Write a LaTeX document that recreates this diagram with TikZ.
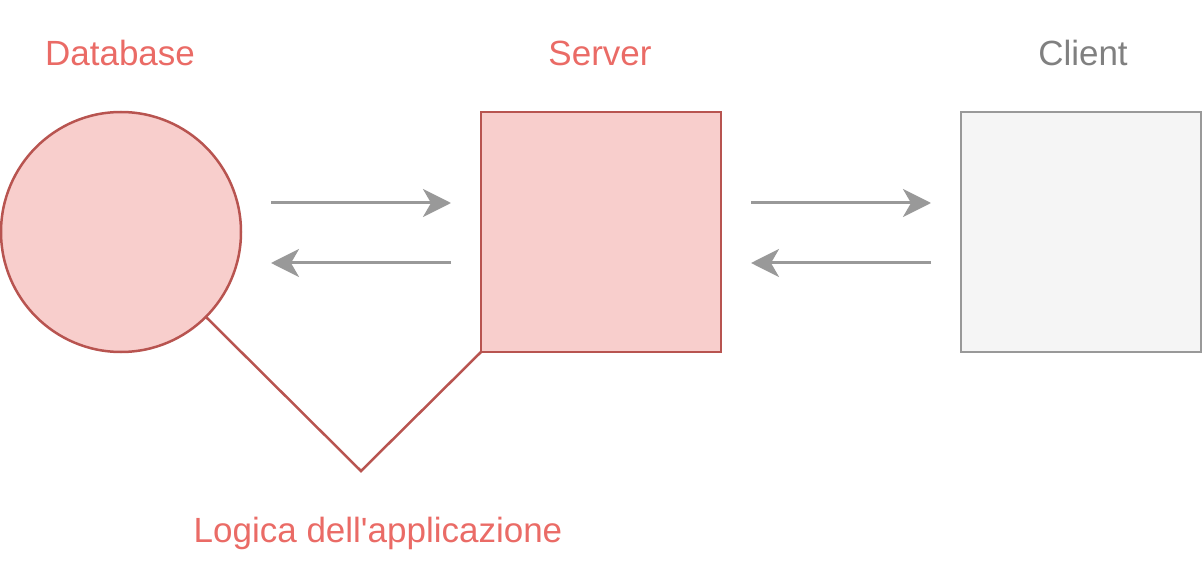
\documentclass[tikz,border=0pt]{standalone}
\usepackage{fontspec}
\setmainfont{Liberation Sans}
\usetikzlibrary{arrows.meta, positioning, calc}
\definecolor{lineRed}{HTML}{B85450}
\definecolor{fillRed}{HTML}{F8CECC}
\definecolor{textRed}{HTML}{EA6B66}
\definecolor{lineGrey}{HTML}{999999}
\definecolor{fillGrey}{HTML}{F5F5F5}
\definecolor{textGrey}{HTML}{808080}
\tikzset{
    % Shapes
    dbCircle/.style={circle, draw=lineRed, fill=fillRed, line width=2.5pt, minimum size=240pt, inner sep=0pt, outer sep=0pt},
    serverBox/.style={rectangle, draw=lineRed, fill=fillRed, line width=2.5pt, minimum size=240pt, inner sep=0pt, outer sep=0pt},
    clientBox/.style={rectangle, draw=lineGrey, fill=fillGrey, line width=2.5pt, minimum size=240pt, inner sep=0pt, outer sep=0pt},
    % Connectors
    flowArrow/.style={-{Stealth[length=28pt, width=28pt, inset=8pt]}, line width=3pt, draw=lineGrey, shorten >=30pt, shorten <=30pt},
    logicLine/.style={draw=lineRed, line width=2.5pt},
    % Labels
    titleLabel/.style={font=\fontsize{35}{40}\selectfont, text=textRed},
    greyLabel/.style={font=\fontsize{35}{40}\selectfont, text=textGrey}
}
\begin{document}
\begin{tikzpicture}[x=1pt, y=-1pt]
    \useasboundingbox (0,0) rectangle (1203,564);

    % Main blocks
    \node[dbCircle] (db) at (121,232) {};
    \node[serverBox] (srv) at (601,232) {};
    \node[clientBox] (cli) at (1081,232) {};

    % Titles
    \node[titleLabel] (dbTitle) at (120,53) {Database};
    \node[titleLabel] (srvTitle) at (600,53) {Server};
    \node[greyLabel] (cliTitle) at (1083,53) {Client};

    % Requests and answers
    \draw[flowArrow] ([yshift=29pt]db.east) -- ([yshift=29pt]srv.west);
    \draw[flowArrow] ([yshift=-31pt]srv.west) -- ([yshift=-31pt]db.east);
    \draw[flowArrow] ([yshift=29pt]srv.east) -- ([yshift=29pt]cli.west);
    \draw[flowArrow] ([yshift=-31pt]cli.west) -- ([yshift=-31pt]srv.east);

    % Application logic
    \coordinate (logicTip) at (361,471);
    \draw[logicLine] (db.-45) -- (logicTip) -- (srv.south west);
    \node[titleLabel] (logicTitle) at (378,533) {Logica dell\textquotesingle applicazione};
\end{tikzpicture}
\end{document}
